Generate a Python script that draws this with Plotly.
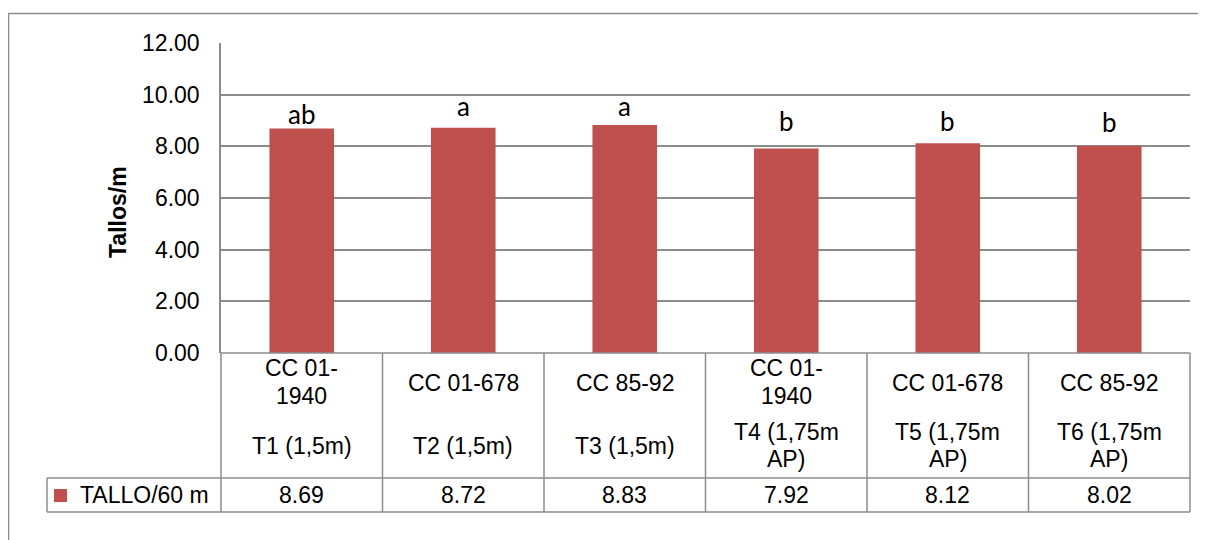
import plotly.graph_objects as go

# ---- data ----
cultivar_lines = [["CC 01-", "1940"], ["CC 01-678"], ["CC 85-92"], ["CC 01-", "1940"], ["CC 01-678"], ["CC 85-92"]]
treatment_lines = [["T1 (1,5m)"], ["T2 (1,5m)"], ["T3 (1,5m)"], ["T4 (1,75m", "AP)"], ["T5 (1,75m", "AP)"], ["T6 (1,75m", "AP)"]]
series_name = "TALLO/60 m"
values = [8.69, 8.72, 8.83, 7.92, 8.12, 8.02]
letters = ["ab", "a", "a", "b", "b", "b"]
y_ticks = [0, 2, 4, 6, 8, 10, 12]

# ---- layout geometry (pixels in the screenshot; page body has an 8px margin) ----
OFF = 8
W, H = 1206 - OFF, 540 - OFF
L, R, T, B = 221, 1190, 43, 353
PW, PH = R - L, B - T
RED = "#C0504D"
GRID = "#8C8C8C"
FONT = "Liberation Sans, Arial, sans-serif"
FS = 23

def px(x):
    return (x - L) / PW

def py(y):
    return (B - y) / PH

x_ids = list(range(len(values)))

fig = go.Figure()
fig.add_trace(go.Bar(x=x_ids, y=values, marker=dict(color=RED, line=dict(width=0)),
                     width=0.4, name=series_name, showlegend=False, hoverinfo="y"))

shapes = []
annotations = []

def hline(x0, x1, y, color=GRID, w=1.5):
    shapes.append(dict(type="line", xref="paper", yref="paper", x0=px(x0), x1=px(x1),
                       y0=py(y), y1=py(y), line=dict(color=color, width=w), layer="above"))

def vline(x, y0, y1, color=GRID, w=1.5):
    shapes.append(dict(type="line", xref="paper", yref="paper", x0=px(x), x1=px(x),
                       y0=py(y0), y1=py(y1), line=dict(color=color, width=w), layer="above"))

def text(x, y, s, size=FS, **kw):
    annotations.append(dict(xref="paper", yref="paper", x=px(x), y=py(y), text=s,
                            showarrow=False, font=dict(family=FONT, size=size, color="black"),
                            xanchor=kw.get("xanchor", "center"), yanchor="middle",
                            textangle=kw.get("textangle", 0)))

# outer chart border
hline(8, 1210, 13.5)
vline(8.5, 13, 545)

# data table
n = len(values)
colw = PW / n
table_top, row_split, table_bot = 353, 478, 512
hline(L, R, table_top)
hline(47, R, row_split)
hline(47, R, table_bot)
for i in range(n + 1):
    vline(L + i * colw, table_top, table_bot)
vline(47, row_split, table_bot)

for i in range(n):
    cx = L + (i + 0.5) * colw
    cl = cultivar_lines[i]
    if len(cl) == 1:
        text(cx, 383, cl[0])
    else:
        text(cx, 368, cl[0]); text(cx, 396, cl[1])
    tl = treatment_lines[i]
    if len(tl) == 1:
        text(cx, 446, tl[0])
    else:
        text(cx, 432, tl[0]); text(cx, 459, tl[1])
    text(cx, 495, f"{values[i]:.2f}")

# legend key in table
shapes.append(dict(type="rect", xref="paper", yref="paper", x0=px(54), x1=px(67),
                   y0=py(489), y1=py(502), fillcolor=RED, line=dict(width=0)))
text(78, 495, series_name, xanchor="left")

# y axis title
text(118, 212, "<b>Tallos/m</b>", textangle=-90)

# significance letters above bars
letter_shift = [15, 22, 19, 27, 22, 24]
for i in range(n):
    annotations.append(dict(x=x_ids[i], y=values[i], xref="x", yref="y", text=letters[i],
                            showarrow=False, yanchor="middle", yshift=letter_shift[i],
                            font=dict(family="Lato, Carlito, sans-serif", size=26, color="black")))

fig.update_layout(
    width=W, height=H,
    margin=dict(l=L - OFF, r=1206 - R, t=T - OFF, b=540 - B),
    paper_bgcolor="white", plot_bgcolor="white",
    shapes=shapes, annotations=annotations,
    bargap=0.6,
    xaxis=dict(range=[-0.5, n - 0.5], showticklabels=False, showgrid=False,
               zeroline=False, showline=False, ticks=""),
    yaxis=dict(range=[0, 12], tickvals=y_ticks, ticktext=[f"{v:.2f}" for v in y_ticks],
               showgrid=True, gridcolor=GRID, gridwidth=1.5, zeroline=False,
               showline=True, linecolor=GRID, linewidth=1.5, ticks="",
               ticklabelstandoff=15,
               tickfont=dict(family=FONT, size=FS, color="black")),
    showlegend=False,
)

fig.write_html("out.html")
